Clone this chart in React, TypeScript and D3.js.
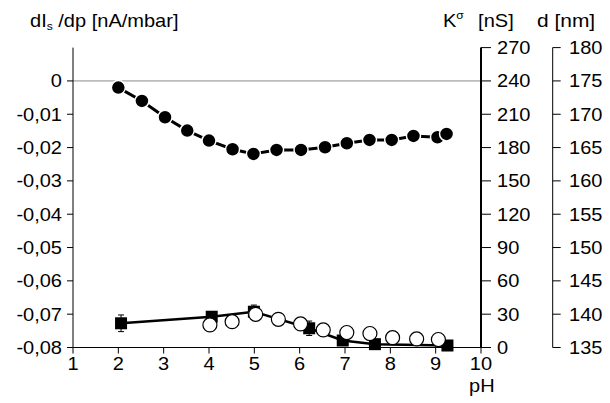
import React from "react";
import * as d3 from "d3";

// dIs/dp (left axis) vs pH — filled circles
const dIsPH = [2.0, 2.52, 3.03, 3.52, 4.0, 4.52, 4.98, 5.49, 6.03, 6.56, 7.04, 7.54, 8.03, 8.51, 9.04, 9.24];
const dIsVal = [-0.002, -0.006, -0.0109, -0.0149, -0.0179, -0.0205, -0.0219, -0.0207, -0.0207, -0.0199, -0.0187, -0.0177, -0.0177, -0.0165, -0.0169, -0.0159];

// K sigma [nS] (middle right axis) — filled squares with error bars
const kPH = [2.06, 4.06, 4.99, 6.21, 6.95, 7.66, 9.26];
const kVal = [21.8, 27.7, 32.2, 17.3, 6.3, 3.0, 1.8];
const kErr = [7.5, 2, 6, 6.5, 1.5, 1, 1];

// d [nm] (outer right axis) — open circles
const dPH = [4.02, 4.51, 5.03, 5.53, 6.02, 6.52, 7.04, 7.55, 8.05, 8.58, 9.06];
const dVal = [138.38, 138.87, 139.98, 139.23, 138.53, 137.63, 137.25, 137.1, 136.47, 136.28, 136.2];

const xTicks = [1, 2, 3, 4, 5, 6, 7, 8, 9, 10];
const leftTicks = [0, -0.01, -0.02, -0.03, -0.04, -0.05, -0.06, -0.07, -0.08];
const kTicks = [0, 30, 60, 90, 120, 150, 180, 210, 240, 270];
const dTicks = [135, 140, 145, 150, 155, 160, 165, 170, 175, 180];

const FONT = "'Liberation Sans', Arial, sans-serif";
const FS = 18.2;
const SX = 1.1;

function Label({ x, y, anchor = "start", children }: { x: number; y: number; anchor?: string; children: React.ReactNode }) {
  return (
    <text
      transform={`translate(${x},${y}) scale(${SX},1)`}
      textAnchor={anchor as any}
      fontFamily={FONT}
      fontSize={FS}
      fill="#000"
    >
      {children}
    </text>
  );
}

export default function App() {
  const top = 47.6;
  const bottom = 347.5;
  const x = d3.scaleLinear().domain([1, 10]).range([73, 481]);
  const yL = d3.scaleLinear().domain([-0.08, 0.01]).range([bottom, top]);
  const yK = d3.scaleLinear().domain([0, 270]).range([bottom, top]);
  const yD = d3.scaleLinear().domain([135, 180]).range([bottom, top]);

  const kAxisX = 481;
  const dAxisX = 552.7;

  const fmtLeft = (v: number) => (v === 0 ? "0" : d3.format(".2f")(v).replace(".", ",").replace("−", "-"));

  const dIsLine = d3.line<number>().x((_, i) => x(dIsPH[i])).y((v) => yL(v))(dIsVal) || "";
  const kLine = d3.line<number>().x((_, i) => x(kPH[i])).y((v) => yK(v))(kVal) || "";

  return (
    <svg width={610} height={403} style={{ display: "block", position: "absolute", left: 0, top: 0 }}>
      <rect width={610} height={403} fill="#fff" />
      {/* zero reference line */}
      <line x1={x(1)} x2={x(10)} y1={yL(0)} y2={yL(0)} stroke="#8c8c8c" strokeWidth={1} />

      {/* left axis */}
      <line x1={x(1)} x2={x(1)} y1={top} y2={bottom} stroke="#000" strokeWidth={1} />
      {leftTicks.map((t) => (
        <g key={"l" + t}>
          <line x1={x(1) - 6} x2={x(1)} y1={yL(t)} y2={yL(t)} stroke="#000" strokeWidth={1} />
          <Label x={62} y={yL(t) + 6.5} anchor="end">{fmtLeft(t)}</Label>
        </g>
      ))}

      {/* x axis */}
      <line x1={x(1)} x2={x(10)} y1={bottom} y2={bottom} stroke="#000" strokeWidth={1} />
      {xTicks.map((t) => (
        <g key={"x" + t}>
          <line x1={x(t)} x2={x(t)} y1={bottom} y2={bottom + 6} stroke="#000" strokeWidth={1} />
          <Label x={x(t)} y={370} anchor="middle">{String(t)}</Label>
        </g>
      ))}
      <Label x={469} y={392}>pH</Label>

      {/* K axis */}
      <line x1={kAxisX} x2={kAxisX} y1={top} y2={bottom} stroke="#000" strokeWidth={2} />
      {kTicks.map((t) => (
        <g key={"k" + t}>
          <line x1={kAxisX} x2={kAxisX + 10} y1={yK(t)} y2={yK(t)} stroke="#000" strokeWidth={1} />
          <Label x={497} y={yK(t) + 6.5}>{String(t)}</Label>
        </g>
      ))}

      {/* d axis */}
      <line x1={dAxisX} x2={dAxisX} y1={top} y2={bottom} stroke="#000" strokeWidth={1} />
      {dTicks.map((t) => (
        <g key={"d" + t}>
          <line x1={dAxisX} x2={dAxisX + 8} y1={yD(t)} y2={yD(t)} stroke="#000" strokeWidth={1} />
          <Label x={569} y={yD(t) + 6.5}>{String(t)}</Label>
        </g>
      ))}

      {/* axis titles */}
      <text transform={`translate(30,27) scale(${SX},1)`} fontFamily={FONT} fontSize={FS} fill="#000">
        dI<tspan fontSize={11} dy={3}>s</tspan>
        <tspan dy={-3}> /dp [nA/mbar]</tspan>
      </text>
      <text transform={`translate(443,27) scale(${SX},1)`} fontFamily={FONT} fontSize={FS} fill="#000">
        K<tspan fontSize={11} dy={-8}>σ</tspan>
        <tspan dy={8} dx={13}>[nS]</tspan>
      </text>
      <text transform={`translate(537,27) scale(1.15,1)`} fontFamily={FONT} fontSize={FS} fill="#000">
        d [nm]
      </text>

      {/* dIs/dp series */}
      <path d={dIsLine} fill="none" stroke="#000" strokeWidth={3} />
      {dIsVal.map((v, i) => (
        <circle key={"c" + i} cx={x(dIsPH[i])} cy={yL(v)} r={7} fill="#000" stroke="#fff" strokeWidth={1.5} />
      ))}

      {/* K series */}
      <path d={kLine} fill="none" stroke="#000" strokeWidth={2.5} />
      {kVal.map((v, i) => {
        const cx = x(kPH[i]);
        const y1 = yK(v + kErr[i]);
        const y2 = yK(v - kErr[i]);
        return (
          <g key={"s" + i}>
            <line x1={cx} x2={cx} y1={y1} y2={y2} stroke="#000" strokeWidth={1} />
            <line x1={cx - 3} x2={cx + 3} y1={y1} y2={y1} stroke="#000" strokeWidth={1} />
            <line x1={cx - 3} x2={cx + 3} y1={y2} y2={y2} stroke="#000" strokeWidth={1} />
            <rect x={cx - 6} y={yK(v) - 6} width={12} height={12} fill="#000" />
          </g>
        );
      })}

      {/* d series */}
      {dVal.map((v, i) => (
        <circle key={"o" + i} cx={x(dPH[i])} cy={yD(v)} r={7} fill="#fff" stroke="#000" strokeWidth={1.2} />
      ))}
    </svg>
  );
}
